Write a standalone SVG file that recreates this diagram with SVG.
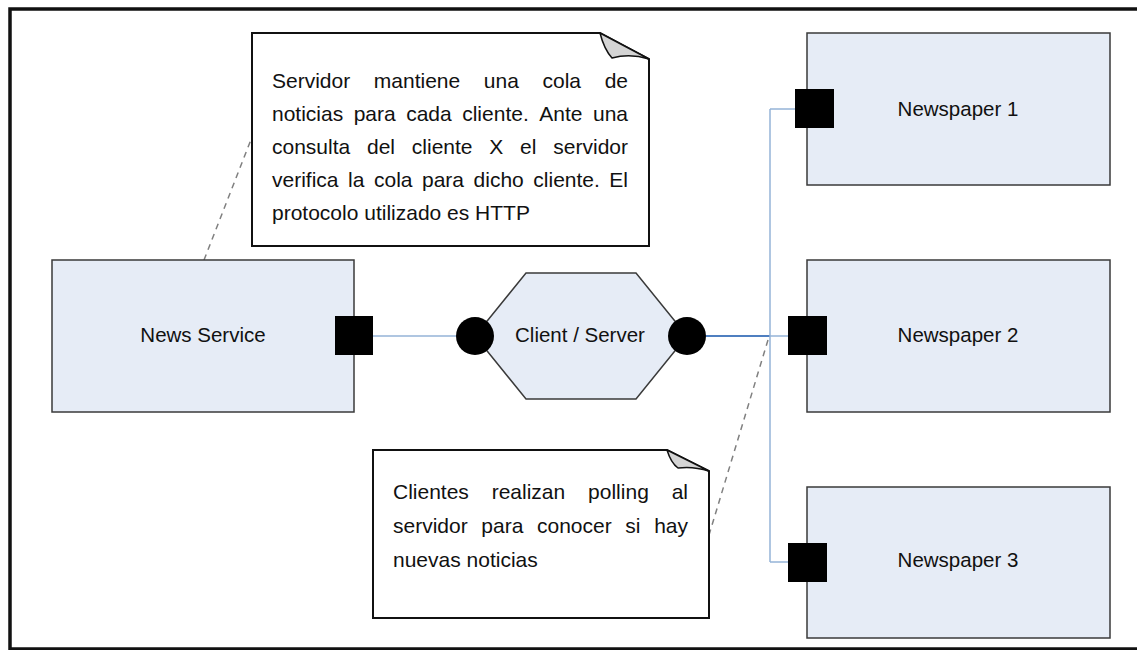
<svg xmlns="http://www.w3.org/2000/svg" width="1137" height="650" viewBox="0 0 1137 650">
<style>
.node{fill:#e6ecf6;stroke:#3a3a3a;stroke-width:1.5}
.port{fill:#000}
.lbl{font-family:"Liberation Sans",Arial,sans-serif;font-size:20.5px;fill:#111;text-anchor:middle}
.nt{font-family:"Liberation Sans",Arial,sans-serif;font-size:21px;fill:#111}
.note{fill:#fff;stroke:#111;stroke-width:2}
.fold{fill:#d4d4d4;stroke:#111;stroke-width:1.5;stroke-linejoin:round}
.wire{stroke:#95b3d7;stroke-width:1.5;fill:none}
.wire2{stroke:#4f7fc0;stroke-width:2;fill:none}
.anchor{stroke:#808080;stroke-width:1.5;stroke-dasharray:6 5;fill:none}
</style>
<rect width="1137" height="650" fill="#fff"/>
<rect x="10" y="9" width="1140" height="640" fill="none" stroke="#111" stroke-width="3.5"/>
<g id="connectors">
<path class="wire" d="M373,336 H456"/>
<path class="wire2" d="M706,336 H770"/>
<path class="wire" d="M770,336 H788"/>
<path class="wire" d="M770,109 V562"/>
<path class="wire" d="M770,109 H795"/>
<path class="wire" d="M770,562 H788"/>
<path class="anchor" d="M204,260 L252,137"/>
<path class="anchor" d="M768,340 L709,535"/>
</g>
<g id="news-service">
<rect class="node" x="52" y="260" width="302" height="152"/>
<text class="lbl" x="203" y="342">News Service</text>
<rect class="port" x="335" y="316" width="38" height="39"/>
</g>
<g id="client-server">
<polygon class="node" points="526,273 636,273 687,336 636,399 526,399 475,336"/>
<text class="lbl" x="580" y="342">Client / Server</text>
<circle class="port" cx="475" cy="336" r="19"/>
<circle class="port" cx="687" cy="336" r="19"/>
</g>
<g id="newspaper-1">
<rect class="node" x="807" y="33" width="303" height="152"/>
<text class="lbl" x="958" y="116">Newspaper 1</text>
<rect class="port" x="795" y="89" width="39" height="39"/>
</g>
<g id="newspaper-2">
<rect class="node" x="807" y="260" width="303" height="152"/>
<text class="lbl" x="958" y="342">Newspaper 2</text>
<rect class="port" x="788" y="316" width="39" height="39"/>
</g>
<g id="newspaper-3">
<rect class="node" x="807" y="487" width="303" height="151"/>
<text class="lbl" x="958" y="567">Newspaper 3</text>
<rect class="port" x="788" y="543" width="39" height="39"/>
</g>
<g id="note-server">
<path class="note" d="M252,33 H600 L649,59 V246 H252 Z"/>
<path class="fold" d="M600,33 Q604,49 612,58 Q630,53 649,59 Z"/>
<text class="nt" y="88"><tspan x="272">Servidor</tspan><tspan x="373.8">mantiene</tspan><tspan x="483.8">una</tspan><tspan x="542.5">cola</tspan><tspan x="628" text-anchor="end">de</tspan></text>
<text class="nt" y="121"><tspan x="272">noticias</tspan><tspan x="353.7">para</tspan><tspan x="406.2">cada</tspan><tspan x="462.2">cliente.</tspan><tspan x="539.3">Ante</tspan><tspan x="628" text-anchor="end">una</tspan></text>
<text class="nt" y="154"><tspan x="272">consulta</tspan><tspan x="367">del</tspan><tspan x="411.8">cliente</tspan><tspan x="489.3">X</tspan><tspan x="520.1">el</tspan><tspan x="628" text-anchor="end">servidor</tspan></text>
<text class="nt" y="187"><tspan x="272">verifica</tspan><tspan x="348.1">la</tspan><tspan x="374">cola</tspan><tspan x="422">para</tspan><tspan x="473.6">dicho</tspan><tspan x="533.3">cliente.</tspan><tspan x="628" text-anchor="end">El</tspan></text>
<text class="nt" x="272" y="220">protocolo utilizado es HTTP</text>
</g>
<g id="note-clients">
<path class="note" d="M373,450 H667 L709,471 V618 H373 Z"/>
<path class="fold" d="M667,450 Q671,463 678,468 Q693,466 709,471 Z"/>
<text class="nt" y="499"><tspan x="393">Clientes</tspan><tspan x="491.7">realizan</tspan><tspan x="588.1">polling</tspan><tspan x="688" text-anchor="end">al</tspan></text>
<text class="nt" y="533"><tspan x="393">servidor</tspan><tspan x="481.3">para</tspan><tspan x="537">conocer</tspan><tspan x="625.3">si</tspan><tspan x="688" text-anchor="end">hay</tspan></text>
<text class="nt" x="393" y="567">nuevas noticias</text>
</g>
</svg>
